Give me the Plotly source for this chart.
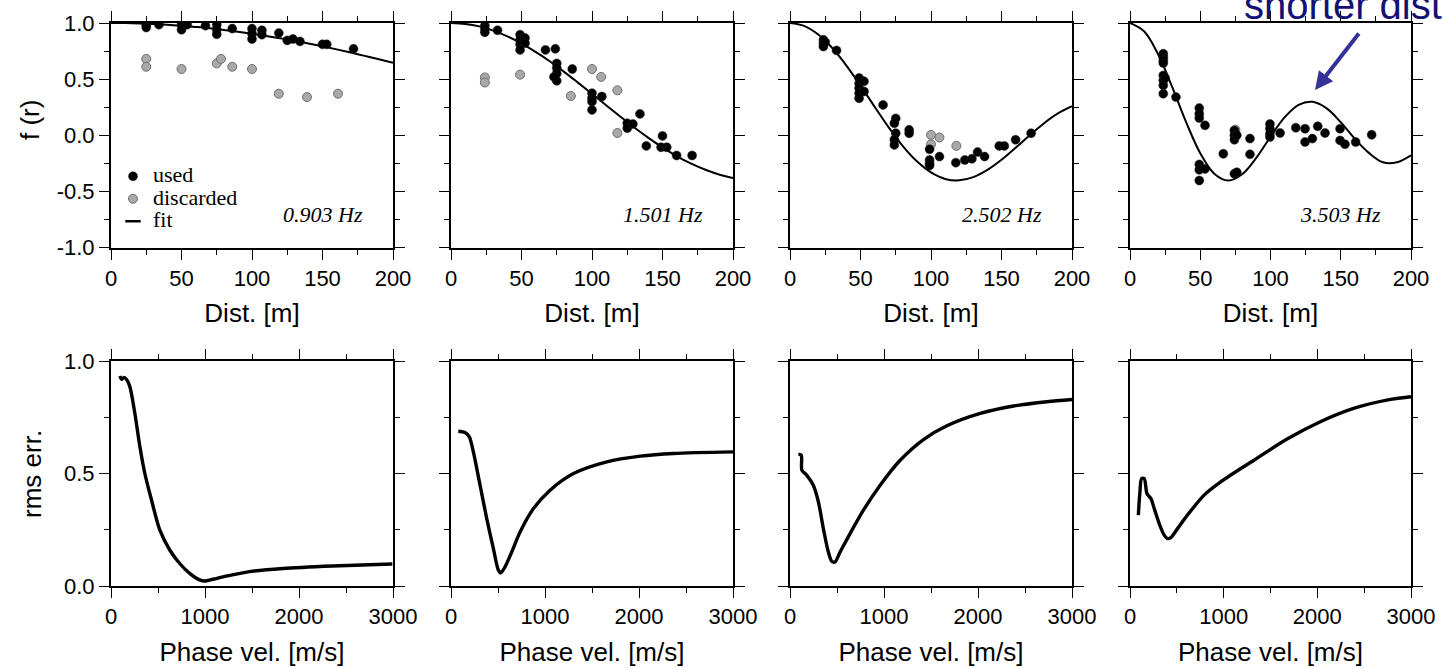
import plotly.graph_objects as go

W, H = 1443, 668

freq_labels = ["0.903 Hz", "1.501 Hz", "2.502 Hz", "3.503 Hz"]
dist_ticks = [0, 50, 100, 150, 200]
fr_ticks = [-1.0, -0.5, 0.0, 0.5, 1.0]
fr_tick_labels = ["-1.0", "-0.5", "0.0", "0.5", "1.0"]
vel_ticks = [0, 1000, 2000, 3000]
rms_ticks = [0.0, 0.5, 1.0]
rms_tick_labels = ["0.0", "0.5", "1.0"]

# ---- top row: spatial autocorrelation f(r) vs distance ----
used_r_1 = [25, 25, 34, 50, 50, 54, 67, 75, 75, 75, 86, 100, 100, 100, 107, 107, 119, 125, 129, 134, 150, 153, 172]
used_f_1 = [0.98, 0.96, 0.985, 0.985, 0.94, 0.985, 0.976, 0.985, 0.94, 0.90, 0.95, 0.95, 0.905, 0.857, 0.935, 0.896,
            0.91, 0.845, 0.857, 0.836, 0.81, 0.81, 0.77]
disc_r_1 = [25, 25, 50, 75, 78, 86, 100, 119, 139, 161]
disc_f_1 = [0.68, 0.61, 0.59, 0.64, 0.68, 0.61, 0.59, 0.37, 0.34, 0.37]

used_r_2 = [24, 24, 24, 33, 49, 49, 49, 49, 52.5, 52.5, 67, 74, 75, 75, 75, 75, 73, 86, 100, 100, 100, 100, 107,
            125, 125, 129, 134, 138.5, 149, 150, 153, 160, 171]
used_f_2 = [0.976, 0.946, 0.917, 0.935, 0.896, 0.85, 0.81, 0.76, 0.866, 0.82, 0.76, 0.77, 0.64, 0.60, 0.55, 0.485,
            0.52, 0.59, 0.375, 0.33, 0.30, 0.226, 0.345, 0.107, 0.063, 0.10, 0.19, -0.095, -0.107, -0.006, -0.107,
            -0.18, -0.18]
disc_r_2 = [24, 24, 49, 85, 100, 106.5, 118, 118]
disc_f_2 = [0.515, 0.47, 0.54, 0.35, 0.59, 0.52, 0.40, 0.02]

used_r_3 = [23.7, 23.7, 23.7, 25, 33, 49, 49, 49, 49, 49, 52.5, 52.5, 66, 75, 74, 75, 74, 74, 84.5, 84.5,
            99, 99, 99, 99, 106, 117.6, 124, 129, 133, 138, 148.4, 152, 160, 171]
used_f_3 = [0.85, 0.82, 0.79, 0.83, 0.756, 0.51, 0.46, 0.42, 0.375, 0.33, 0.48, 0.39, 0.27, 0.15, 0.107, 0.018,
            -0.04, -0.086, 0.048, 0.018, -0.125, -0.22, -0.25, -0.27, -0.19, -0.244, -0.22, -0.21, -0.15, -0.19,
            -0.095, -0.095, -0.04, 0.018]
disc_r_3 = [100, 100, 106, 118]
disc_f_3 = [0.003, -0.08, -0.02, -0.095]

used_r_4 = [23.7, 23.7, 23.7, 23.7, 23.7, 23.7, 23.7, 23.7, 25, 32.7, 49.3, 49.3, 49.3, 53.4, 49.3, 49.3, 49.3,
            53.4, 66.4, 74.3, 74.3, 74.3, 76, 74.3, 76, 85.4, 85.4, 99.6, 99.6, 99.6, 99.6, 106.8, 118, 124.6,
            124.6, 129.8, 133.6, 138.8, 149.5, 149.5, 153, 160.6, 172]
used_f_4 = [0.727, 0.697, 0.667, 0.643, 0.533, 0.489, 0.444, 0.37, 0.51, 0.34, 0.242, 0.192, 0.153, 0.088, -0.26,
            -0.308, -0.403, -0.30, -0.165, 0.043, 0.0, -0.04, 0.0, -0.343, -0.33, -0.03, -0.17, 0.10, 0.058, 0.013,
            -0.016, 0.02, 0.067, 0.058, -0.06, -0.03, 0.08, 0.02, 0.058, -0.046, -0.08, -0.06, 0.004]
disc_r_4 = [75]
disc_f_4 = [0.05]

fit_r = [0, 10, 20, 30, 40, 50, 60, 70, 80, 90, 100, 110, 120, 130, 140, 150, 160, 170, 180, 190, 200]
fit_f_1 = [1.0, 0.999, 0.996, 0.991, 0.984, 0.976, 0.965, 0.953, 0.938, 0.922, 0.904, 0.885, 0.864, 0.842, 0.818,
           0.792, 0.765, 0.737, 0.707, 0.677, 0.646]
fit_f_2 = [1.0, 0.992, 0.970, 0.932, 0.881, 0.818, 0.742, 0.659, 0.567, 0.469, 0.369, 0.267, 0.167, 0.069, -0.023,
           -0.108, -0.185, -0.251, -0.305, -0.349, -0.380]
fit_f_3 = [1.0, 0.974, 0.897, 0.777, 0.621, 0.442, 0.254, 0.070, -0.096, -0.232, -0.331, -0.389, -0.402, -0.373,
           -0.309, -0.219, -0.112, 0.000, 0.105, 0.194, 0.259]
fit_f_4 = [1.0, 0.926, 0.721, 0.430, 0.115, -0.160, -0.342, -0.403, -0.345, -0.199, -0.013, 0.159, 0.271, 0.298,
           0.239, 0.116, -0.031, -0.157, -0.241, -0.241, -0.178]

# ---- bottom row: rms error vs phase velocity ----
vel_1 = [95, 113, 138, 166, 201, 254, 307, 360, 431, 519, 625, 731, 837, 943, 996, 1085, 1226, 1473, 1827, 2357, 2993]
rms_1 = [0.933, 0.918, 0.927, 0.918, 0.886, 0.767, 0.62, 0.50, 0.382, 0.249, 0.16, 0.10, 0.056, 0.027, 0.022, 0.03,
         0.044, 0.064, 0.078, 0.089, 0.098]
vel_2 = [78, 149, 195, 238, 309, 380, 451, 504, 529, 575, 646, 735, 877, 1054, 1303, 1658, 2013, 2368, 3000]
rms_2 = [0.688, 0.682, 0.663, 0.596, 0.448, 0.30, 0.166, 0.07, 0.058, 0.085, 0.151, 0.24, 0.344, 0.426, 0.50, 0.552,
         0.577, 0.589, 0.596]
vel_3 = [89, 120, 126, 177, 248, 302, 355, 408, 444, 479, 533, 639, 781, 959, 1172, 1420, 1669, 2024, 2379, 2734, 3000]
rms_3 = [0.585, 0.582, 0.515, 0.493, 0.448, 0.374, 0.255, 0.151, 0.11, 0.107, 0.151, 0.233, 0.337, 0.448, 0.559,
         0.651, 0.712, 0.767, 0.80, 0.819, 0.829]
vel_4 = [89, 106, 124, 152, 181, 223, 259, 312, 365, 401, 436, 507, 613, 791, 968, 1323, 1677, 2032, 2387, 2741, 3000]
rms_4 = [0.315, 0.418, 0.478, 0.478, 0.411, 0.389, 0.344, 0.277, 0.226, 0.211, 0.215, 0.255, 0.315, 0.404, 0.463,
         0.559, 0.653, 0.730, 0.789, 0.826, 0.841]

used_r = [used_r_1, used_r_2, used_r_3, used_r_4]
used_f = [used_f_1, used_f_2, used_f_3, used_f_4]
disc_r = [disc_r_1, disc_r_2, disc_r_3, disc_r_4]
disc_f = [disc_f_1, disc_f_2, disc_f_3, disc_f_4]
fit_f = [fit_f_1, fit_f_2, fit_f_3, fit_f_4]
vels = [vel_1, vel_2, vel_3, vel_4]
rmss = [rms_1, rms_2, rms_3, rms_4]

# ---- layout geometry (pixels) ----
col_px = [(111, 393), (451, 733), (790, 1072), (1130, 1411)]
top_px = (23, 247.5)
bot_px = (361, 586)

SANS = "Liberation Sans, Arial, sans-serif"
SERIF = "Liberation Serif, Times New Roman, serif"


def xdom(a, b):
    return [a / W, b / W]


def ydom(t, b):
    return [1 - b / H, 1 - t / H]


def axis_style(dom, rng, ticks, minor_dtick, ticktext, show_labels, title=None):
    d = dict(domain=dom, range=rng, tickmode="array", tickvals=ticks, ticktext=ticktext,
             showticklabels=show_labels, showline=True, linewidth=2, linecolor="black",
             mirror="allticks", ticks="outside", ticklen=10, tickwidth=1.3, tickcolor="black",
             showgrid=False, zeroline=False, automargin=False, fixedrange=True,
             tickfont=dict(family=SANS, size=22, color="black"),
             minor=dict(ticks="outside", ticklen=5, tickwidth=1.3, tickcolor="black",
                        dtick=minor_dtick, tick0=0, showgrid=False))
    if title is not None:
        d["title"] = dict(text=title, font=dict(family=SANS, size=26, color="black"), standoff=14)
    return d


fig = go.Figure()
layout = {}

for i in range(4):
    n_top = i + 1
    n_bot = i + 5
    xa_t = "x" if n_top == 1 else f"x{n_top}"
    ya_t = "y" if n_top == 1 else f"y{n_top}"
    xa_b = f"x{n_bot}"
    ya_b = f"y{n_bot}"

    # fit line
    fig.add_trace(go.Scatter(x=fit_r, y=fit_f[i], mode="lines", line=dict(color="black", width=2, shape="spline"),
                             xaxis=xa_t, yaxis=ya_t, showlegend=False, hoverinfo="skip"))
    # discarded
    fig.add_trace(go.Scatter(x=disc_r[i], y=disc_f[i], mode="markers",
                             marker=dict(size=9, color="#a9a9a9", line=dict(color="#6e6e6e", width=1)),
                             xaxis=xa_t, yaxis=ya_t, name='<span style="font-size:22px">discarded</span>',
                             legendrank=2, showlegend=(i == 0)))
    # used
    fig.add_trace(go.Scatter(x=used_r[i], y=used_f[i], mode="markers",
                             marker=dict(size=9, color="black", line=dict(color="#222222", width=0.5)),
                             xaxis=xa_t, yaxis=ya_t, name='<span style="font-size:22px">used</span>',
                             legendrank=1, showlegend=(i == 0)))
    # rms curve
    fig.add_trace(go.Scatter(x=vels[i], y=rmss[i], mode="lines",
                             line=dict(color="black", width=3.4, shape="spline", smoothing=0.8),
                             xaxis=xa_b, yaxis=ya_b, showlegend=False, hoverinfo="skip"))

    kx_t = "xaxis" if n_top == 1 else f"xaxis{n_top}"
    ky_t = "yaxis" if n_top == 1 else f"yaxis{n_top}"
    layout[kx_t] = axis_style(xdom(*col_px[i]), [0, 200], dist_ticks, 25, [str(t) for t in dist_ticks], True,
                              "Dist. [m]")
    layout[kx_t]["anchor"] = ya_t
    layout[ky_t] = axis_style(ydom(*top_px), [-1, 1], fr_ticks, 0.25, fr_tick_labels, i == 0)
    layout[ky_t]["anchor"] = xa_t
    layout[f"xaxis{n_bot}"] = axis_style(xdom(*col_px[i]), [0, 3000], vel_ticks, 500, [str(t) for t in vel_ticks],
                                         True, "Phase vel. [m/s]")
    layout[f"xaxis{n_bot}"]["anchor"] = ya_b
    layout[f"yaxis{n_bot}"] = axis_style(ydom(*bot_px), [0, 1], rms_ticks, 0.25, rms_tick_labels, i == 0)
    layout[f"yaxis{n_bot}"]["anchor"] = xa_b

# legend key for the fit line (legend entry only, no data)
fig.add_trace(go.Scatter(x=[None], y=[None], mode="markers",
                         marker=dict(symbol="line-ew", size=11, line=dict(color="black", width=2.5)),
                         name='<span style="font-size:22px">fit</span>', legendrank=3, xaxis="x", yaxis="y"))

annotations = []
for i in range(4):
    xa_t = "x" if i == 0 else f"x{i + 1}"
    ya_t = "y" if i == 0 else f"y{i + 1}"
    annotations.append(dict(x=180, y=-0.71, xref=xa_t, yref=ya_t, text=f"<i>{freq_labels[i]}</i>",
                            showarrow=False, xanchor="right", yanchor="middle",
                            font=dict(family=SERIF, size=22, color="black")))

annotations.append(dict(x=30 / W, y=1 - 120 / H, xref="paper", yref="paper", text="f (r)", textangle=-90,
                        showarrow=False, xanchor="center", yanchor="middle",
                        font=dict(family=SANS, size=26, color="black")))
annotations.append(dict(x=32 / W, y=1 - 474 / H, xref="paper", yref="paper", text="rms err.", textangle=-90,
                        showarrow=False, xanchor="center", yanchor="middle",
                        font=dict(family=SANS, size=26, color="black")))

# callout annotation (runs off the top-right edge, as in the original slide)
annotations.append(dict(x=1242 / W, y=1 - 5 / H, xref="paper", yref="paper", text="shorter distance",
                        showarrow=False, xanchor="left", yanchor="middle",
                        font=dict(family=SANS, size=40, color="#121275")))
annotations.append(dict(x=1315 / W, y=1 - 90 / H, xref="paper", yref="paper", text="", showarrow=True,
                        ax=45, ay=-58, arrowhead=2, arrowsize=0.9, arrowwidth=4, arrowcolor="#333399"))

fig.update_layout(
    width=W, height=H, autosize=False,
    margin=dict(l=0, r=0, t=0, b=0, pad=0),
    paper_bgcolor="white", plot_bgcolor="white",
    showlegend=True,
    legend=dict(x=113 / W, y=1 - 160 / H, xanchor="left", yanchor="top", bgcolor="rgba(0,0,0,0)",
                borderwidth=0, font=dict(family=SERIF, size=15, color="black"), tracegroupgap=0,
                itemclick=False, itemdoubleclick=False),
    annotations=annotations,
    **layout,
)

fig.write_html("out.html")
